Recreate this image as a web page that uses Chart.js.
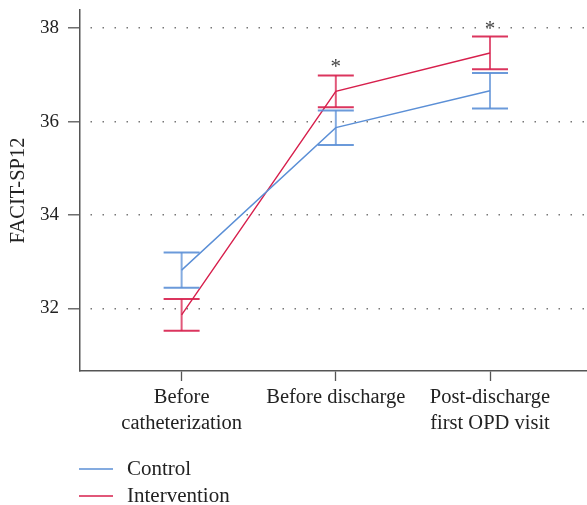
<!DOCTYPE html>
<html><head><meta charset="utf-8">
<script src="https://cdn.jsdelivr.net/npm/chart.js@4/dist/chart.umd.min.js"></script>
<style>html,body{margin:0;padding:0;background:#fff}#wrap{width:587px;height:505px;position:relative}</style>
</head><body><div id="wrap"><canvas id="c" width="587" height="505"></canvas></div>
<script>
const categories = [["Before","catheterization"],"Before discharge",["Post-discharge","first OPD visit"]];
const categoryPositions = [1, 2, 3];
const controlMeans = [32.82, 35.87, 36.66];
const controlErr = [0.38, 0.37, 0.38];
const interventionMeans = [31.86, 36.65, 37.47];
const interventionErr = [0.34, 0.34, 0.35];
const significant = [false, true, true];
const yTicks = [32, 34, 36, 38];
const seriesNames = ["Control", "Intervention"];
const seriesColors = ["#5b8fd6", "#d71f4c"];

const FONT = "'Liberation Serif', 'Times New Roman', serif";

function pts(means){ return means.map((m,i)=>({x:categoryPositions[i], y:m})); }

const errorBars = {
  id:'errorBars',
  afterDatasetsDraw(chart){
    const ctx = chart.ctx, xs = chart.scales.x, ys = chart.scales.y;
    const sets = [[controlMeans, controlErr], [interventionMeans, interventionErr]];
    sets.forEach((s, di)=>{
      ctx.save();
      ctx.strokeStyle = seriesColors[di];
      s[0].forEach((m,i)=>{
        const x = xs.getPixelForValue(categoryPositions[i]);
        const yt = ys.getPixelForValue(m + s[1][i]);
        const yb = ys.getPixelForValue(m - s[1][i]);
        ctx.globalAlpha = 0.75;
        ctx.lineWidth = 2;
        ctx.beginPath(); ctx.moveTo(x, yt); ctx.lineTo(x, yb); ctx.stroke();
        ctx.globalAlpha = 0.9;
        ctx.beginPath();
        ctx.moveTo(x-18, yt); ctx.lineTo(x+18, yt);
        ctx.moveTo(x-18, yb); ctx.lineTo(x+18, yb);
        ctx.stroke();
      });
      ctx.restore();
    });
    ctx.save();
    ctx.fillStyle = '#444';
    ctx.font = '21px ' + FONT;
    ctx.textAlign = 'center';
    ctx.textBaseline = 'alphabetic';
    significant.forEach((sig,i)=>{
      if(!sig) return;
      const x = xs.getPixelForValue(categoryPositions[i]);
      const yt = ys.getPixelForValue(interventionMeans[i] + interventionErr[i]);
      ctx.fillText('*', x, yt - 2);
    });
    ctx.restore();
  },
  afterDraw(chart){
    const ctx = chart.ctx;
    ctx.save();
    ctx.font = '21px ' + FONT;
    ctx.fillStyle = '#222';
    ctx.textBaseline = 'middle';
    ctx.textAlign = 'left';
    const rows = [469, 496];
    seriesNames.forEach((n,i)=>{
      ctx.strokeStyle = seriesColors[i];
      ctx.lineWidth = 1.5;
      ctx.beginPath(); ctx.moveTo(79, rows[i]); ctx.lineTo(113, rows[i]); ctx.stroke();
      ctx.fillText(n, 127, rows[i]);
    });
    ctx.restore();
  }
};

new Chart(document.getElementById('c'), {
  type:'line',
  data:{
    datasets:[
      {label:seriesNames[0], data:pts(controlMeans), borderColor:seriesColors[0], borderWidth:1.4, pointRadius:0, tension:0, clip:false},
      {label:seriesNames[1], data:pts(interventionMeans), borderColor:seriesColors[1], borderWidth:1.4, pointRadius:0, tension:0, clip:false}
    ]
  },
  plugins:[errorBars],
  options:{
    responsive:false, animation:false, devicePixelRatio:1,
    layout:{padding:{top:10, left:0, right:0, bottom:0}},
    plugins:{legend:{display:false}, tooltip:{enabled:false}},
    scales:{
      x:{
        type:'linear', min:0.341, max:3.629,
        afterBuildTicks(s){ s.ticks = categoryPositions.map(v=>({value:v})); },
        afterFit(s){ s.height = 134; s.paddingLeft = 0; s.paddingRight = 0; },
        ticks:{ callback:(v)=>categories[categoryPositions.indexOf(v)], color:'#222', font:{family:FONT, size:20.5, lineHeight:1.27}, padding:4, maxRotation:0, autoSkip:false },
        grid:{ drawOnChartArea:false, drawTicks:true, tickLength:10, tickColor:'#555', tickWidth:1.3 },
        border:{ display:true, color:'#555', width:1.5 }
      },
      y:{
        min:30.66, max:38.39,
        afterBuildTicks(s){ s.ticks = yTicks.map(v=>({value:v})); },
        afterFit(s){ s.width = 80; s.paddingTop = 0; s.paddingBottom = 0; },
        ticks:{ color:'#222', font:{family:FONT, size:19}, padding:9 },
        grid:{ color:'#777', lineWidth:1.6, tickLength:12, tickColor:'#555', tickWidth:1.3, tickBorderDash:[] },
        border:{ display:true, color:'#555', width:1.5, dash:[1.5,10.5], dashOffset:-10 },
        title:{ display:true, text:'FACIT-SP12', color:'#222', font:{family:FONT, size:20.5}, padding:{top:6, bottom:0} }
      }
    }
  }
});
</script></body></html>
